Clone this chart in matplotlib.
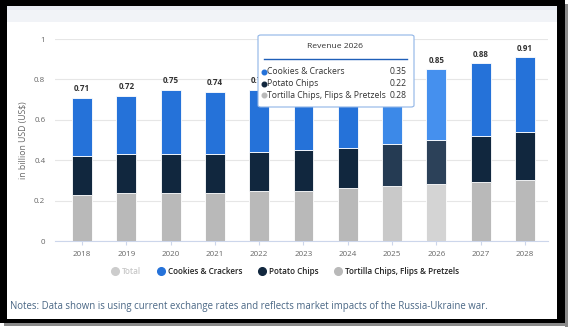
import matplotlib
matplotlib.use("Agg")
import matplotlib.pyplot as plt
from matplotlib.patches import Rectangle, FancyBboxPatch
from matplotlib.lines import Line2D

plt.rcParams['font.family'] = ['Open Sans', 'DejaVu Sans']

years = ["2018", "2019", "2020", "2021", "2022", "2023", "2024", "2025", "2026", "2027", "2028"]
tortilla = [0.23, 0.24, 0.24, 0.24, 0.25, 0.25, 0.26, 0.27, 0.28, 0.29, 0.30]
potato = [0.19, 0.19, 0.19, 0.19, 0.19, 0.20, 0.20, 0.21, 0.22, 0.23, 0.24]
cookies = [0.29, 0.29, 0.32, 0.31, 0.31, 0.32, 0.33, 0.34, 0.35, 0.36, 0.37]
totals = [0.71, 0.72, 0.75, 0.74, 0.75, 0.77, 0.79, 0.82, 0.85, 0.88, 0.91]
yticks = [0, 0.2, 0.4, 0.6, 0.8, 1]
ytick_labels = ["0", "0.2", "0.4", "0.6", "0.8", "1"]
series_names = ["Cookies & Crackers", "Potato Chips", "Tortilla Chips, Flips & Pretzels"]
tooltip_year = "2026"

W, H = 570, 332
fig = plt.figure(figsize=(W / 100, H / 100), dpi=100, facecolor="#000000")

def fx(x):
    return x / W

def fy(y):
    return 1 - y / H

# background / frame in pixel coordinates (figure background is black)
bg = fig.add_axes([0, 0, 1, 1], zorder=-5)
bg.set_xlim(0, W)
bg.set_ylim(H, 0)
bg.axis("off")
bg.add_patch(Rectangle((565, 0), 5, H, facecolor="#ffffff", edgecolor="none"))
bg.add_patch(Rectangle((0, 323), W, 9, facecolor="#ffffff", edgecolor="none"))
bg.add_patch(Rectangle((565, 4), 3, 323, facecolor="#8a8a8a", edgecolor="none"))
bg.add_patch(Rectangle((4, 323), 564, 3, facecolor="#8a8a8a", edgecolor="none"))
bg.add_patch(Rectangle((7, 6), 550, 313, facecolor="white", edgecolor="none"))
bg.add_patch(Rectangle((7, 6), 550, 16, facecolor="#f1f3f7", edgecolor="none"))
bg.add_patch(Rectangle((7, 6), 550, 4, facecolor="#e7ebf1", edgecolor="none"))

ax = fig.add_axes([fx(55), fy(241), fx(548) - fx(55), fy(39) - fy(241)])
ax.set_facecolor("none")
n = len(years)
x = list(range(n))

base_cols = ["#2572d9", "#11273e", "#b9b9b9"]
hl25 = ["#3c89e8", "#253b53", "#c9c9c9"]
hl26 = ["#4590ee", "#2c4159", "#d4d4d4"]

def cols(i):
    y = years[i]
    if y == "2025":
        return hl25
    if y == "2026":
        return hl26
    return base_cols

w = 0.45
for i in x:
    c = cols(i)
    ax.bar(i, tortilla[i], width=w, color=c[2], edgecolor="white", linewidth=0.6, zorder=3)
    ax.bar(i, potato[i], bottom=tortilla[i], width=w, color=c[1], edgecolor="white", linewidth=0.6, zorder=3)
    ax.bar(i, cookies[i], bottom=tortilla[i] + potato[i], width=w, color=c[0], edgecolor="white", linewidth=0.6, zorder=3)
    ax.annotate(f"{totals[i]:.2f}", (i, tortilla[i] + potato[i] + cookies[i]), xytext=(0, 3),
                textcoords="offset points", ha="center", va="bottom", fontsize=5.8,
                fontweight="bold", color="#333333", zorder=4)

ax.set_xlim(-0.61, n - 1 + 0.52)
ax.set_ylim(0, 1)
ax.set_yticks(yticks)
ax.set_yticklabels(ytick_labels)
ax.set_xticks(x)
ax.set_xticklabels(years)
ax.grid(axis="y", color="#e6e6e6", linewidth=0.8, zorder=0)
for s in ["top", "right", "left"]:
    ax.spines[s].set_visible(False)
ax.spines["bottom"].set_color("#ccd6eb")
ax.spines["bottom"].set_linewidth(0.8)
ax.tick_params(axis="y", length=0, labelsize=5.8, labelcolor="#666666", pad=7)
ax.tick_params(axis="x", length=3, color="#ccd6eb", labelsize=5.8, labelcolor="#666666", pad=4)
ax.set_ylabel("in billion USD (US\\$)", fontsize=6.2, color="#666666", labelpad=4)

# legend
handles = [Line2D([], [], marker="o", linestyle="none", markersize=5.5, color="#cccccc"),
           Line2D([], [], marker="o", linestyle="none", markersize=5.5, color=base_cols[0]),
           Line2D([], [], marker="o", linestyle="none", markersize=5.5, color=base_cols[1]),
           Line2D([], [], marker="o", linestyle="none", markersize=5.5, color=base_cols[2])]
leg = fig.legend(handles, ["Total"] + series_names, loc="center", bbox_to_anchor=(fx(285), fy(271)),
                 ncol=4, frameon=False, fontsize=5.9, handletextpad=0.35, columnspacing=1.9,
                 handlelength=1.0)
for t, c in zip(leg.get_texts(), ["#c8c8c8", "#222222", "#222222", "#222222"]):
    t.set_color(c)
    t.set_fontweight("semibold")

fig.text(fx(10), fy(306), "Notes: Data shown is using current exchange rates and reflects market impacts of the Russia-Ukraine war.",
         fontsize=6.9, color="#4a6785", ha="left", va="center")

# tooltip
ti = years.index(tooltip_year)
box = FancyBboxPatch((fx(258), fy(107)), fx(414) - fx(258), fy(35) - fy(107), boxstyle="round,pad=0,rounding_size=0.005",
                     transform=fig.transFigure, facecolor="white", edgecolor="#8fb4e6", linewidth=0.8, zorder=10)
fig.patches.append(box)
fig.text(fx(335), fy(46), f"Revenue {tooltip_year}", fontsize=6.1, color="#333333", ha="center", va="center",
         fontweight="medium", zorder=11)
fig.lines.append(Line2D([fx(264), fx(407)], [fy(59), fy(59)], transform=fig.transFigure, color="#1f5fb8",
                        linewidth=1.0, zorder=11))
tip_vals = [cookies[ti], potato[ti], tortilla[ti]]
tip_cols = [base_cols[0], base_cols[1], base_cols[2]]
for k, (nm, v, c) in enumerate(zip(series_names, tip_vals, tip_cols)):
    yy = fy(72 + k * 11.5)
    fig.lines.append(Line2D([fx(264)], [yy], transform=fig.transFigure, marker="o", markersize=3.3,
                            color=c, linestyle="none", zorder=11))
    fig.text(fx(267), yy, nm, fontsize=6.2, color="#333333", ha="left", va="center", zorder=11)
    fig.text(fx(407), yy, f"{v:.2f}", fontsize=6.2, color="#333333", ha="right", va="center", zorder=11)

fig.savefig("out.png", dpi=100, facecolor=fig.get_facecolor())
